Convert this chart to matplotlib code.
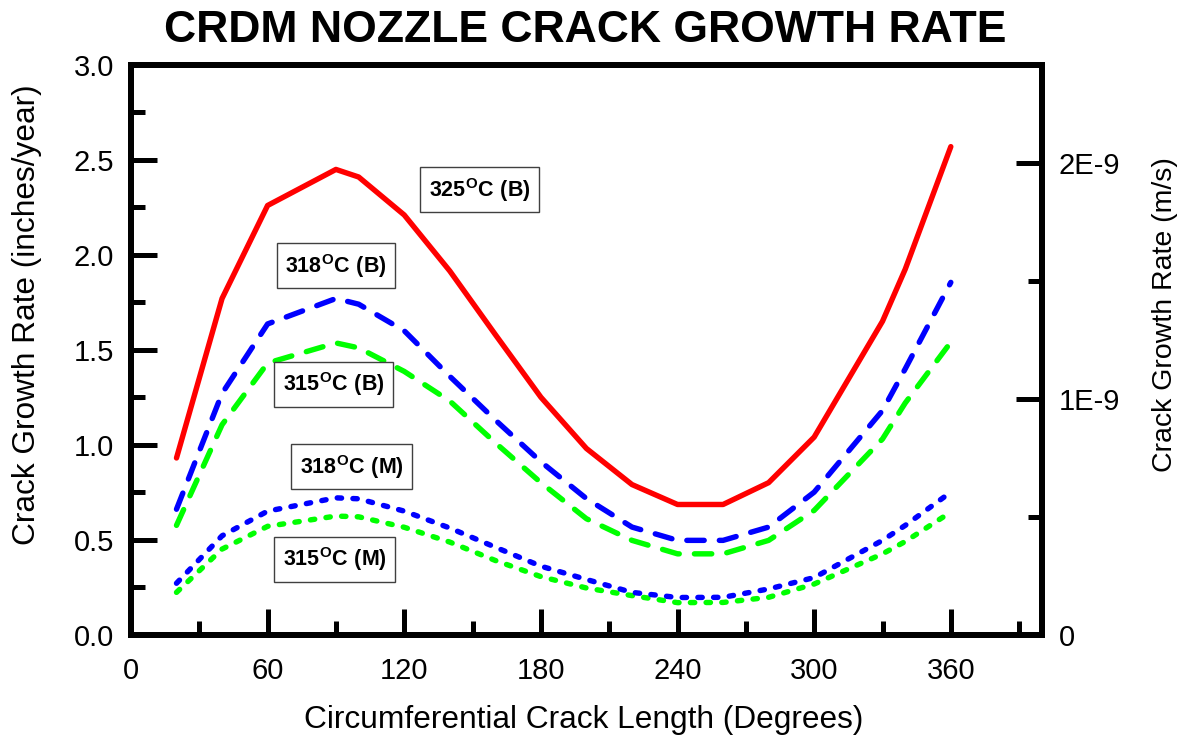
import matplotlib
matplotlib.use("Agg")
import matplotlib.pyplot as plt
from matplotlib.ticker import MultipleLocator, FixedLocator

plt.rcParams['font.family'] = ['Liberation Sans', 'DejaVu Sans']
plt.rcParams['mathtext.fontset'] = 'custom'
plt.rcParams['mathtext.rm'] = 'Liberation Sans'
plt.rcParams['mathtext.bf'] = 'Liberation Sans:bold'

# ---- data ----
degrees = [20, 40, 60, 90, 100, 120, 140, 160, 180, 200, 220, 240, 260, 280, 300, 330, 340, 360]
rate_325B = [0.93, 1.77, 2.26, 2.45, 2.41, 2.21, 1.915, 1.58, 1.25, 0.98, 0.79, 0.685, 0.685, 0.80, 1.04, 1.65, 1.925, 2.57]
rate_318B = [0.66, 1.27, 1.636, 1.77, 1.74, 1.60, 1.36, 1.13, 0.91, 0.716, 0.566, 0.496, 0.496, 0.566, 0.75, 1.18, 1.40, 1.855]
rate_315B = [0.575, 1.105, 1.43, 1.536, 1.51, 1.386, 1.23, 1.01, 0.80, 0.61, 0.496, 0.425, 0.425, 0.496, 0.654, 1.03, 1.22, 1.54]
rate_318M = [0.27, 0.52, 0.65, 0.72, 0.715, 0.65, 0.561, 0.46, 0.36, 0.29, 0.222, 0.195, 0.196, 0.24, 0.30, 0.496, 0.575, 0.75]
rate_315M = [0.222, 0.45, 0.57, 0.624, 0.62, 0.565, 0.487, 0.39, 0.305, 0.245, 0.205, 0.168, 0.169, 0.196, 0.266, 0.425, 0.49, 0.645]

labels = [r"$\mathbf{325^{O}C\ (B)}$", r"$\mathbf{318^{O}C\ (B)}$", r"$\mathbf{315^{O}C\ (B)}$",
          r"$\mathbf{318^{O}C\ (M)}$", r"$\mathbf{315^{O}C\ (M)}$"]
label_pos = [(153, 2.342), (90, 1.942), (89, 1.317), (97, 0.884), (89.5, 0.395)]

left_ticks = [0.0, 0.5, 1.0, 1.5, 2.0, 2.5, 3.0]
x_ticks = [0, 60, 120, 180, 240, 300, 360]
right_ticks = [0, 1e-9, 2e-9]
right_tick_labels = ["0", "1E-9", "2E-9"]
INCH_YR_PER_M_S = 3.15576e7 / 0.0254

# ---- figure ----
fig = plt.figure(figsize=(11.84, 7.43), dpi=100)
ax = fig.add_axes([0.1106, 0.1460, 0.7694, 0.7665])

lw = 3.9
ax.plot(degrees, rate_325B, color=(1, 0, 0), lw=lw, solid_capstyle='round', zorder=3)
dash = (0, (3.2, 2.8))
dot = (0, (0.8, 2.1))
ax.plot(degrees, rate_318B, color=(0, 0, 1), lw=lw, linestyle=dash, dash_capstyle='round', zorder=3)
ax.plot(degrees, rate_315B, color=(0, 1, 0), lw=lw, linestyle=dash, dash_capstyle='round', zorder=2)
ax.plot(degrees, rate_318M, color=(0, 0, 1), lw=lw, linestyle=dot, dash_capstyle='round', zorder=3)
ax.plot(degrees, rate_315M, color=(0, 1, 0), lw=lw, linestyle=dot, dash_capstyle='round', zorder=2)

for s, (px, py) in zip(labels, label_pos):
    ax.text(px, py, s, ha='center', va='center', fontsize=15.5, zorder=5,
            bbox=dict(boxstyle='square,pad=0.4', fc='white', ec='#404040', lw=1.0))

ax.set_xlim(0, 400)
ax.set_ylim(0, 3.0)
ax.xaxis.set_major_locator(FixedLocator(x_ticks))
ax.xaxis.set_minor_locator(MultipleLocator(30))
ax.yaxis.set_major_locator(FixedLocator(left_ticks))
ax.yaxis.set_minor_locator(MultipleLocator(0.25))
ax.set_xticklabels([str(t) for t in x_ticks])
ax.set_yticklabels([f"{t:.1f}" for t in left_ticks])

for sp in ax.spines.values():
    sp.set_linewidth(4.3)

ax.tick_params(which='major', direction='in', length=18.5, width=3.6, labelsize=21, pad=12,
               top=False, right=False)
ax.tick_params(which='minor', direction='in', length=10, width=3.6, top=False, right=False)
ax.tick_params(axis='x', which='major', pad=16)

ax2 = ax.twinx()
ax2.set_ylim(0, 3.0 / INCH_YR_PER_M_S)
ax2.yaxis.set_major_locator(FixedLocator(right_ticks))
ax2.set_yticklabels(right_tick_labels)
ax2.yaxis.set_minor_locator(FixedLocator([0.5e-9, 1.5e-9]))
ax2.tick_params(which='major', direction='in', length=18.5, width=3.6, labelsize=21, pad=12)
ax2.tick_params(which='minor', direction='in', length=10, width=3.6)
for sp in ax2.spines.values():
    sp.set_linewidth(4.3)

fig.text(0.494, 1 - 30 / 743, "CRDM NOZZLE CRACK GROWTH RATE", ha='center', va='center',
         fontsize=32, fontweight='bold')
fig.text(0.493, 1 - 720 / 743, "Circumferential Crack Length (Degrees)", ha='center', va='center',
         fontsize=22.8)
fig.text(27 / 1184, 1 - 315 / 743, "Crack Growth Rate (inches/year)", ha='center', va='center',
         rotation=90, fontsize=22.8)
fig.text(1165 / 1184, 1 - 315 / 743, "Crack Growth Rate (m/s)", ha='center', va='center',
         rotation=90, fontsize=20.5)

fig.savefig("out.png", dpi=100)
